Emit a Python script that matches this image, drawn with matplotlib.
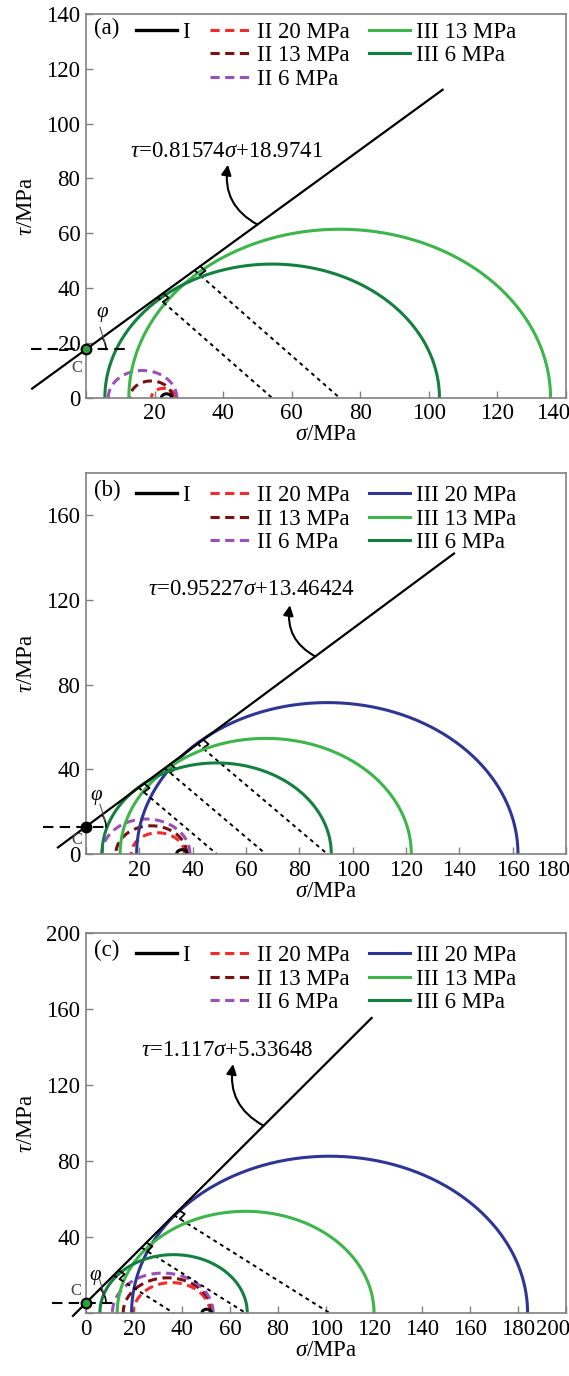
import numpy as np
import matplotlib.pyplot as plt
import matplotlib.transforms as mtransforms
from matplotlib.lines import Line2D

plt.rcParams['font.family'] = ['Liberation Serif', 'DejaVu Serif']
plt.rcParams['mathtext.fontset'] = 'custom'
plt.rcParams['mathtext.rm'] = 'Liberation Serif'
plt.rcParams['mathtext.it'] = 'Liberation Serif:italic'

# ---- data ----
tags = ['(a)', '(b)', '(c)']
ax_max = [140, 180, 200]
env_text = [r'$\tau$=0.81574$\sigma$+18.9741',
            r'$\tau$=0.95227$\sigma$+13.46424',
            r'$\tau$=1.117$\sigma$+5.33648']
# envelope I as it is drawn in the picture (slope, intercept at C)
env_k = [0.91, 0.935, 1.26]
env_b = [17.7, 12.9, 5.3]

# group II Mohr circles, order 20 / 13 / 6 MPa : centre and radius
II_c = [[22.6, 19.0, 16.5], [27.0, 24.5, 22.5], [35.7, 34.0, 32.0]]
II_r = [[3.5, 6.2, 10.0], [10.0, 13.3, 16.5], [16.0, 18.5, 21.0]]
# group III Mohr circles, order 20 / 13 / 6 MPa (no 20 MPa in panel a)
III_c = [[np.nan, 74.0, 54.3], [90.5, 67.4, 49.0], [101.5, 66.5, 36.5]]
III_r = [[np.nan, 61.5, 48.8], [71.5, 54.6, 43.0], [82.5, 53.5, 30.7]]
# small black circle
I_c = [23.5, 36.0, 50.3]
I_r = [1.5, 2.0, 2.0]

II_names = ['II 20 MPa', 'II 13 MPa', 'II 6 MPa']
III_names = ['III 20 MPa', 'III 13 MPa', 'III 6 MPa']
II_cols = ['#f52a2a', '#7a1010', '#9a50b8']
III_cols = ['#2e3594', '#3cb54a', '#14803f']

# ---- layout ----
W, H = 569, 1376
boxes = [[0.1511, 0.7108, 0.8436, 0.2791],
         [0.1511, 0.3794, 0.8436, 0.2769],
         [0.1511, 0.0458, 0.8436, 0.2762]]
env_span = [(-15.7, 104), (-10.5, 138), (-5.4, 119)]
hline_span = [(-16, 12), (-16, 7), (-14, 12)]
eq_pos = [(41, 89.7), (62, 125), (59, 138)]
arrow_head = [(41.4, 85.0), (76.5, 117.5), (61.3, 131)]
arrow_tail_x = [50, 86, 74]
phi_pos = [(4.7, 30.5), (4.0, 26.5), (3.8, 18.5)]
c_pos = [(-2.6, 11), (-3.4, 6.5), (-4.3, 11.5)]
c_face = ['#2aa040', 'k', '#2aa040']
leg_y = [1.021, 1.01, 1.01]
fs = 16.5

theta = np.linspace(0, np.pi, 300)
fig = plt.figure(figsize=(W / 100, H / 100), dpi=100)

for i in range(3):
    ax = fig.add_axes(boxes[i])
    top = ax_max[i]
    k, b = env_k[i], env_b[i]
    sx = boxes[i][2] * W / top      # px per data unit
    sy = boxes[i][3] * H / top
    norm = np.sqrt(1 + k * k)

    handles = {}
    # group II (dashed)
    for j in range(3):
        h, = ax.plot(II_c[i][j] + II_r[i][j] * np.cos(theta), II_r[i][j] * np.sin(theta),
                     color=II_cols[j], lw=2.2, dashes=(3, 1.8))
        handles[II_names[j]] = h
    # small black circle
    ax.plot(I_c[i] + I_r[i] * np.cos(theta), I_r[i] * np.sin(theta), color='k', lw=2.2)

    # group III (solid) + perpendicular from centre to envelope
    for j in range(3):
        c, r = III_c[i][j], III_r[i][j]
        if np.isnan(c):
            continue
        h, = ax.plot(c + r * np.cos(theta), r * np.sin(theta), color=III_cols[j], lw=2.2)
        handles[III_names[j]] = h
        d = (k * c + b) / norm
        tx, ty = c - d * k / norm, d / norm
        ax.plot([tx, c], [ty, 0], color='k', lw=1.4, dashes=(2, 2))
        # right angle mark (built in pixel space)
        u = np.array([sx, k * sy]); u = u / np.hypot(*u)
        v = np.array([(c - tx) * sx, -ty * sy]); v = v / np.hypot(*v)
        s = 7
        p1 = s * u
        p2 = s * u + s * v
        p3 = s * v
        ax.plot([tx + p1[0] / sx, tx + p2[0] / sx, tx + p3[0] / sx],
                [ty + p1[1] / sy, ty + p2[1] / sy, ty + p3[1] / sy], color='k', lw=1.3)

    # envelope I
    xs = np.array(env_span[i])
    ax.plot(xs, k * xs + b, color='k', lw=1.6, clip_on=False)
    # horizontal dashed through C
    ax.plot(hline_span[i], [b, b], color='k', lw=1.5, dashes=(5, 3), clip_on=False)
    ax.plot(0, b, 'o', ms=7, mfc=c_face[i], mec='k', mew=1.5, clip_on=False, zorder=6)
    ax.text(c_pos[i][0], c_pos[i][1], 'C', fontsize=12, color='#444444',
            ha='center', va='center')

    # angle arc phi
    ang = np.arctan(k * sy / sx)
    aa = np.linspace(0, ang, 30)
    ra = 20
    ax.plot(ra * np.cos(aa) / sx, b + ra * np.sin(aa) / sy, color='k', lw=1.2, clip_on=False)
    mx, my = ra * np.cos(ang / 2), ra * np.sin(ang / 2)
    ax.plot([mx / sx, (mx - 5) / sx], [b + my / sy, b + (my + 16) / sy], color='#555555', lw=0.8)
    ax.text(phi_pos[i][0], phi_pos[i][1], r'$\varphi$', fontsize=15, ha='center', va='center')

    # equation and curved arrow
    ax.text(eq_pos[i][0], eq_pos[i][1], env_text[i], fontsize=fs, ha='center', va='center')
    tx0 = arrow_tail_x[i]
    ax.annotate('', xy=arrow_head[i], xytext=(tx0, k * tx0 + b),
                arrowprops=dict(arrowstyle='-|>,head_length=0.6,head_width=0.3', color='k', lw=1.5,
                                shrinkA=0, shrinkB=0, connectionstyle='arc3,rad=-0.35'))

    # legend
    blank = Line2D([], [], color='none')
    hI_leg = Line2D([], [], color='k', lw=2.4)
    entries = [(hI_leg, 'I'), (blank, ''), (blank, '')]
    entries += [(handles[n], n) for n in II_names]
    for n in III_names:
        if n in handles:
            entries.append((handles[n], n))
    while len(entries) < 9:
        entries.append((blank, ''))
    ax.legend([e[0] for e in entries], [e[1] for e in entries], ncol=3,
              loc='upper left', bbox_to_anchor=(0.07, leg_y[i]), frameon=False,
              fontsize=fs, handlelength=1.8, handletextpad=0.25,
              columnspacing=0.85, labelspacing=0.1, borderpad=0.2)
    ax.text(0.016, 0.955 if i else 0.962, tags[i], transform=ax.transAxes,
            fontsize=fs, ha='left', va='center')

    # axes styling
    ax.set_xlim(0, top)
    ax.set_ylim(0, top)
    xt = np.arange(0, top + 1, 20)
    ax.set_xticks(xt)
    ax.set_xticklabels([('' if (v == 0 and i < 2) else str(v)) for v in xt])
    yt = np.arange(0, top + 1, 20 if i == 0 else 40)
    ax.set_yticks(yt)
    ax.set_yticklabels([('' if (v == 0 and i == 2) else str(v)) for v in yt])
    for sp in ax.spines.values():
        sp.set_color('#808080')
        sp.set_linewidth(1.2)
    ax.tick_params(direction='in', length=5, width=1, color='#808080',
                   labelsize=fs, pad=4)
    last = ax.get_xticklabels()[-1]
    last.set_transform(last.get_transform() +
                       mtransforms.ScaledTranslation(-13 / 100, 0, fig.dpi_scale_trans))
    ax.set_xlabel(r'$\sigma$/MPa', fontsize=fs, labelpad=0)
    ax.set_ylabel(r'$\tau$/MPa', fontsize=fs, labelpad=7)

fig.savefig('out.png', dpi=100)
